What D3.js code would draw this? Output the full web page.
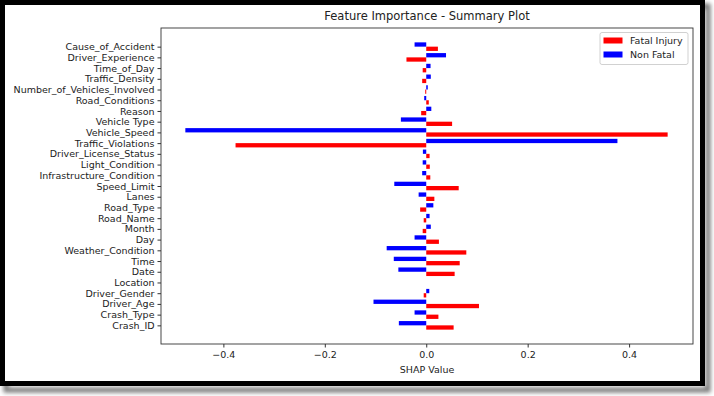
<!DOCTYPE html>
<html>
<head>
<meta charset="utf-8">
<script src="https://cdn.jsdelivr.net/npm/d3@7"></script>
<style>
  body { margin: 0; background: #fff; }
  svg text { font-family: "DejaVu Sans", sans-serif; fill: #222; }
</style>
</head>
<body>
<div id="chart"></div>
<script>
var features = ['Cause_of_Accident', 'Driver_Experience', 'Time_of_Day', 'Traffic_Density',
  'Number_of_Vehicles_Involved', 'Road_Conditions', 'Reason', 'Vehicle Type', 'Vehicle_Speed',
  'Traffic_Violations', 'Driver_License_Status', 'Light_Condition', 'Infrastructure_Condition',
  'Speed_Limit', 'Lanes', 'Road_Type', 'Road_Name', 'Month', 'Day', 'Weather_Condition',
  'Time', 'Date', 'Location', 'Driver_Gender', 'Driver_Age', 'Crash_Type', 'Crash_ID'];

var fatal = [0.023, -0.039, -0.007, -0.008, -0.002, 0.005, -0.010, 0.051, 0.476,
  -0.376, 0.0066, 0.007, 0.008, 0.064, 0.016, -0.012, -0.005, -0.007, 0.025, 0.079,
  0.066, 0.056, 0, -0.005, 0.104, 0.024, 0.054];

var nonFatal = [-0.023, 0.039, 0.0085, 0.009, 0.003, -0.004, 0.010, -0.050, -0.475,
  0.377, -0.0066, -0.007, -0.008, -0.063, -0.015, 0.014, 0.0066, 0.009, -0.023, -0.078,
  -0.064, -0.055, 0, 0.006, -0.104, -0.023, -0.054];

var xTicks = [-0.4, -0.2, 0.0, 0.2, 0.4];
var series = [
  { name: 'Fatal Injury', color: '#ff0000', values: fatal, offset: 0.2 },
  { name: 'Non Fatal', color: '#0000ff', values: nonFatal, offset: -0.2 }
];

var W = 714, H = 396;
var plot = { left: 161, right: 693, top: 28, bottom: 344 };

var svg = d3.select('#chart').append('svg')
  .attr('width', W)
  .attr('height', H);

// screenshot frame with shadow
var defs = svg.append('defs');
var blur = defs.append('filter').attr('id', 'shadow')
  .attr('x', '-5%').attr('y', '-5%').attr('width', '110%').attr('height', '110%');
blur.append('feGaussianBlur').attr('stdDeviation', 2);

svg.append('rect')
  .attr('x', 6).attr('y', 6).attr('width', 702).attr('height', 384)
  .attr('fill', 'none').attr('stroke', '#777').attr('stroke-width', 5)
  .attr('filter', 'url(#shadow)');
svg.append('rect')
  .attr('x', 2.5).attr('y', 2.5).attr('width', 700).attr('height', 381)
  .attr('fill', '#fff').attr('stroke', '#000').attr('stroke-width', 5);

var x = d3.scaleLinear()
  .domain([-0.523, 0.526])
  .range([plot.left, plot.right]);

var y = d3.scaleLinear()
  .domain([-1.74, features.length - 1 + 1.74])
  .range([plot.top, plot.bottom]);

var barH = y(0.4) - y(0);

// bars
series.forEach(function(s) {
  svg.append('g')
    .selectAll('rect')
    .data(s.values)
    .enter()
    .append('rect')
    .attr('x', function(d) { return x(Math.min(0, d)); })
    .attr('width', function(d) { return Math.abs(x(d) - x(0)); })
    .attr('y', function(d, i) { return y(i + s.offset) - barH / 2; })
    .attr('height', barH)
    .attr('fill', s.color);
});

// axes
var xAxis = d3.axisBottom(x)
  .tickValues(xTicks)
  .tickFormat(d3.format('.1f'))
  .tickSizeOuter(0)
  .tickSize(3.5)
  .tickPadding(4);

var yAxis = d3.axisLeft(y)
  .tickValues(d3.range(features.length))
  .tickFormat(function(i) { return features[i]; })
  .tickSizeOuter(0)
  .tickSize(3.5)
  .tickPadding(3);

var gx = svg.append('g')
  .attr('transform', 'translate(0,' + plot.bottom + ')')
  .call(xAxis);
gx.select('.domain').remove();
gx.selectAll('text').style('font-size', '9.5px').attr('fill', '#222');
gx.selectAll('line').attr('stroke', '#333');

var gy = svg.append('g')
  .attr('transform', 'translate(' + plot.left + ',0)')
  .call(yAxis);
gy.select('.domain').remove();
gy.selectAll('text').style('font-size', '9.5px').attr('fill', '#222');
gy.selectAll('line').attr('stroke', '#333');

// spines
svg.append('rect')
  .attr('x', plot.left).attr('y', plot.top)
  .attr('width', plot.right - plot.left).attr('height', plot.bottom - plot.top)
  .attr('fill', 'none').attr('stroke', '#333').attr('stroke-width', 0.9);

// title and label
svg.append('text')
  .attr('x', (plot.left + plot.right) / 2).attr('y', 20)
  .attr('text-anchor', 'middle')
  .style('font-size', '11.5px')
  .text('Feature Importance - Summary Plot');

svg.append('text')
  .attr('x', (plot.left + plot.right) / 2).attr('y', 373)
  .attr('text-anchor', 'middle')
  .style('font-size', '9.5px')
  .text('SHAP Value');

// legend
var lg = svg.append('g').attr('transform', 'translate(600,32.5)');
lg.append('rect')
  .attr('width', 88).attr('height', 32).attr('rx', 2)
  .attr('fill', '#fff').attr('stroke', '#ccc').attr('stroke-width', 0.9);
series.forEach(function(s, i) {
  lg.append('rect')
    .attr('x', 3.5).attr('y', 5 + i * 14)
    .attr('width', 19).attr('height', 6)
    .attr('fill', s.color);
  lg.append('text')
    .attr('x', 30).attr('y', 8 + i * 14)
    .attr('dy', '0.35em')
    .style('font-size', '9.5px')
    .text(s.name);
});
</script>
</body>
</html>
